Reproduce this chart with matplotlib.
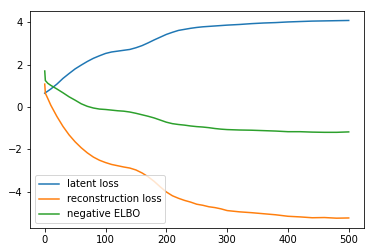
import matplotlib
matplotlib.use("Agg")
import matplotlib.pyplot as plt

steps_a = [0, 10, 20, 30, 40, 50, 60, 70, 80, 90, 100, 110, 120, 130, 140, 150, 160, 170, 180, 190,
           200, 210, 220, 230, 240, 250, 260, 270, 280, 290, 300, 320, 340, 360, 380, 400, 420, 440,
           460, 480, 500]
latent = [0.65, 0.85, 1.08, 1.35, 1.58, 1.8, 1.98, 2.15, 2.3, 2.42, 2.53, 2.6, 2.64, 2.68, 2.72, 2.8,
          2.9, 3.03, 3.17, 3.3, 3.43, 3.53, 3.62, 3.67, 3.72, 3.76, 3.79, 3.81, 3.83, 3.85, 3.87, 3.9,
          3.94, 3.97, 3.99, 4.02, 4.04, 4.06, 4.07, 4.08, 4.09]

steps_b = [0, 1, 5, 10, 20, 30, 40, 50, 60, 70, 80, 90, 100, 110, 120, 130, 140, 150, 160, 170, 180,
           190, 200, 210, 220, 230, 240, 250, 260, 270, 280, 290, 300, 320, 340, 360, 380, 400, 420,
           440, 460, 480, 500]
recon = [1.08, 0.65, 0.4, 0.08, -0.45, -0.92, -1.32, -1.65, -1.93, -2.17, -2.37, -2.52, -2.63, -2.72,
         -2.78, -2.84, -2.89, -2.98, -3.12, -3.3, -3.52, -3.78, -4.02, -4.2, -4.32, -4.42, -4.5, -4.6,
         -4.65, -4.72, -4.76, -4.82, -4.9, -4.96, -5.0, -5.05, -5.1, -5.17, -5.2, -5.24, -5.23, -5.26,
         -5.25]
elbo = [1.7, 1.25, 1.12, 1.02, 0.85, 0.67, 0.48, 0.32, 0.15, 0.03, -0.05, -0.1, -0.12, -0.15, -0.18,
        -0.2, -0.24, -0.3, -0.37, -0.44, -0.52, -0.62, -0.72, -0.79, -0.83, -0.86, -0.9, -0.93, -0.95,
        -0.98, -1.02, -1.05, -1.07, -1.09, -1.1, -1.12, -1.14, -1.17, -1.17, -1.19, -1.2, -1.2, -1.18]

labels = ["latent loss", "reconstruction loss", "negative ELBO"]

fig = plt.figure(figsize=(374 / 72, 252 / 72), dpi=72)
ax = fig.add_axes([0.079, 0.095, 0.894, 0.863])
ax.plot(steps_a, latent, color="#1f77b4", lw=1.5, label=labels[0])
ax.plot(steps_b, recon, color="#ff7f0e", lw=1.5, label=labels[1])
ax.plot(steps_b, elbo, color="#2ca02c", lw=1.5, label=labels[2])
ax.set_xticks([0, 100, 200, 300, 400, 500])
ax.set_yticks([-4, -2, 0, 2, 4])
ax.legend(loc="lower left", fontsize=10)
fig.savefig("out.png", dpi=72)
